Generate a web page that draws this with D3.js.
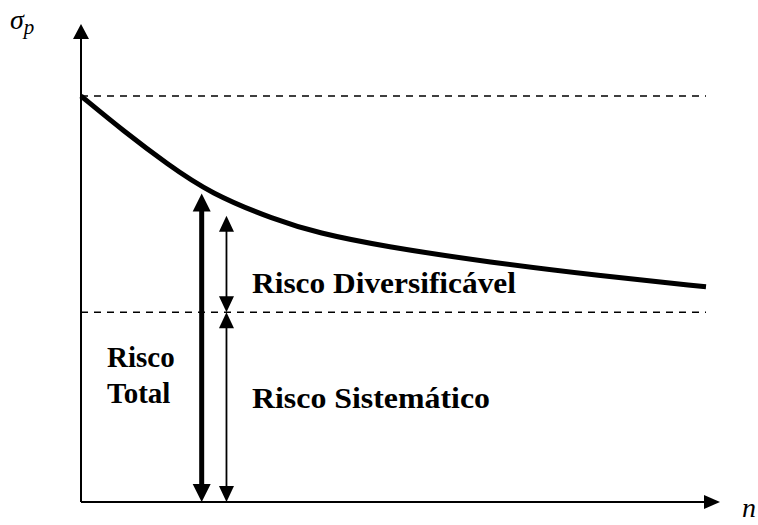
<!DOCTYPE html>
<html lang="pt">
<head>
	<meta charset="utf-8">
	<title>Risco Total</title>
	<script src="https://d3js.org/d3.v7.min.js"></script>
	<style>
		body { margin: 0; background: #fff; }
		.label {
			font-family: "Liberation Serif", "Times New Roman", serif;
			font-weight: bold;
			font-size: 29px;
			fill: #000;
		}
		.axisname {
			font-family: "Liberation Serif", "Times New Roman", serif;
			font-style: italic;
			font-size: 28px;
			fill: #000;
		}
	</style>
</head>
<body>
	<div id="main"></div>

	<script type="text/javascript">
		// numero de ativos na carteira e desvio-padrao da carteira
		var nValues = [1, 3, 5, 7, 10, 12, 15, 20, 25, 30];
		var sigmaValues = [40, 36.5, 33.3, 30.4, 27.8, 26.5, 25.2, 23.6, 22.3, 21.2];

		// niveis das linhas tracejadas: risco de 1 ativo e risco sistematico
		var levels = [40, 18.7];

		// setas: n onde ficam e valor no topo
		var arrowN = [6.6, 7.75];
		var arrowTop = [30.4, 28.2];

		var labels = ["Risco Diversificável", "Risco Sistemático", "Risco", "Total"];

		var width = 758;
		var height = 525;

		var svg = d3.select("#main").append("svg")
			.attr("width", width)
			.attr("height", height);

		var x = d3.scaleLinear()
			.domain([1, 30])
			.range([81, 706]);

		var y = d3.scaleLinear()
			.domain([0, 40])
			.range([502, 96]);

		// desenha um triangulo de seta com ponta em (px, py)
		function head(px, py, dir, len, half) {
			var p;
			if (dir == "up") p = [[px, py], [px - half, py + len], [px + half, py + len]];
			if (dir == "down") p = [[px, py], [px - half, py - len], [px + half, py - len]];
			if (dir == "right") p = [[px, py], [px - len, py - half], [px - len, py + half]];
			svg.append("path")
				.attr("d", "M" + p.join("L") + "Z")
				.attr("fill", "#000");
		}

		// linhas tracejadas
		svg.append("g")
			.selectAll("line")
			.data(levels)
			.enter().append("line")
			.attr("x1", x(1))
			.attr("x2", x(30))
			.attr("y1", function(d) { return y(d); })
			.attr("y2", function(d) { return y(d); })
			.attr("stroke", "#000")
			.attr("stroke-width", 1.5)
			.attr("stroke-dasharray", "7,6");

		// eixos
		var yTop = y(47.1);
		var xEnd = x(30.65);
		svg.append("line")
			.attr("x1", x(1)).attr("x2", x(1))
			.attr("y1", y(0)).attr("y2", yTop + 14)
			.attr("stroke", "#000").attr("stroke-width", 2);
		head(x(1), yTop, "up", 15, 8);

		svg.append("line")
			.attr("x1", x(1)).attr("x2", xEnd - 14)
			.attr("y1", y(0)).attr("y2", y(0))
			.attr("stroke", "#000").attr("stroke-width", 2);
		head(xEnd, y(0), "right", 16, 7);

		// curva do risco da carteira
		var line = d3.line()
			.x(function(d, i) { return x(nValues[i]); })
			.y(function(d) { return y(d); })
			.curve(d3.curveBasis);

		svg.append("path")
			.datum(sigmaValues)
			.attr("d", line)
			.attr("fill", "none")
			.attr("stroke", "#000")
			.attr("stroke-width", 5);

		// seta grossa: risco total
		var ax = x(arrowN[0]);
		svg.append("line")
			.attr("x1", ax).attr("x2", ax)
			.attr("y1", y(arrowTop[0]) + 12).attr("y2", y(0) - 12)
			.attr("stroke", "#000").attr("stroke-width", 5);
		head(ax, y(arrowTop[0]), "up", 18, 9);
		head(ax, y(0), "down", 18, 9);

		// setas finas: diversificavel e sistematico
		var bx = x(arrowN[1]);
		var segs = [[arrowTop[1], levels[1]], [levels[1], 0]];
		segs.forEach(function(s) {
			svg.append("line")
				.attr("x1", bx).attr("x2", bx)
				.attr("y1", y(s[0]) + 10).attr("y2", y(s[1]) - 10)
				.attr("stroke", "#000").attr("stroke-width", 1.8);
			head(bx, y(s[0]), "up", 16, 7.5);
			head(bx, y(s[1]), "down", 16, 7.5);
		});

		// textos
		var pos = [[252, 293, 264], [252, 408, 238], [107, 367, 0], [107, 403, 0]];
		svg.selectAll("text.label")
			.data(labels)
			.enter().append("text")
			.attr("class", "label")
			.attr("x", function(d, i) { return pos[i][0]; })
			.attr("y", function(d, i) { return pos[i][1]; })
			.attr("textLength", function(d, i) { return pos[i][2] || null; })
			.attr("lengthAdjust", "spacingAndGlyphs")
			.text(function(d) { return d; });

		var sig = svg.append("text")
			.attr("class", "axisname")
			.attr("x", 10)
			.attr("y", 29);
		sig.append("tspan").text("σ");
		sig.append("tspan")
			.attr("font-size", "21px")
			.attr("dy", 5)
			.text("p");

		svg.append("text")
			.attr("class", "axisname")
			.attr("font-size", "24px")
			.attr("x", 742)
			.attr("y", 517)
			.text("n");
	</script>
</body>
</html>
